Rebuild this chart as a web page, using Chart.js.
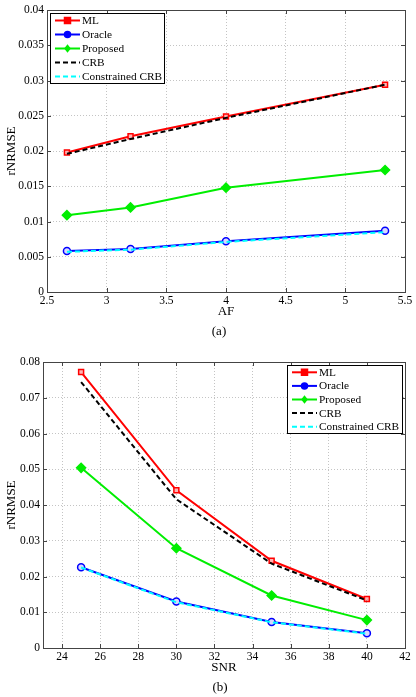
<!DOCTYPE html>
<html>
<head>
<meta charset="utf-8">
<script src="https://cdn.jsdelivr.net/npm/chart.js@4.4.0/dist/chart.umd.min.js"></script>
<style>
  body { margin: 0; background: #fff; width: 416px; height: 697px; position: relative; overflow: hidden; font-family: 'Liberation Serif', 'Times New Roman', serif; }
  .bloco { position: absolute; left: 0; width: 416px; }
  .legenda { position: absolute; font-size: 13px; color: #000; transform: translate(-50%, -50%); white-space: nowrap; }
</style>
</head>
<body>
<div class="bloco" style="top:0;height:340px"><canvas id="graficoA"></canvas></div>
<div class="legenda" style="left:219px;top:331px">(a)</div>
<div class="bloco" style="top:340px;height:357px"><canvas id="graficoB"></canvas></div>
<div class="legenda" style="left:220px;top:687px">(b)</div>
<script>
// nomes das curvas
const nomesSeries = ['ML', 'Oracle', 'Proposed', 'CRB', 'Constrained CRB'];

// === (a) rNRMSE x AF ===
const afValores = [2.667, 3.2, 4, 5.333];
const mlA = [0.0198, 0.0221, 0.0249, 0.0294];
const oracleA = [0.0058, 0.0061, 0.0072, 0.0087];
const propostoA = [0.0109, 0.0120, 0.0148, 0.0173];
const crbA = [0.0196, 0.0217, 0.0247, 0.0294];
const crbRestritoA = [0.0057, 0.0060, 0.0071, 0.0085];
const xTicksA = [2.5, 3, 3.5, 4, 4.5, 5, 5.5];
const yTicksA = [0, 0.005, 0.01, 0.015, 0.02, 0.025, 0.03, 0.035, 0.04];

// === (b) rNRMSE x SNR ===
const snrValores = [25, 30, 35, 40];
const mlB = [0.0772, 0.0441, 0.0244, 0.0137];
const oracleB = [0.0226, 0.0130, 0.0073, 0.0041];
const propostoB = [0.0504, 0.0279, 0.0147, 0.0078];
const crbB = [0.0744, 0.0416, 0.0236, 0.0133];
const crbRestritoB = [0.0225, 0.0128, 0.0072, 0.0040];
const xTicksB = [24, 26, 28, 30, 32, 34, 36, 38, 40, 42];
const yTicksB = [0, 0.01, 0.02, 0.03, 0.04, 0.05, 0.06, 0.07, 0.08];

const fonte = "'Liberation Serif', 'Times New Roman', serif";

// estilo de cada curva (mesma ordem de nomesSeries)
const estilos = [
  { cor: '#ff0000', dash: [], ponto: 'rect', fundo: '#ffb3b3', raio: 3.5, ordem: 5 },
  { cor: '#0000ff', dash: [], ponto: 'circle', fundo: '#d8d8ff', raio: 3.5, ordem: 4 },
  { cor: '#00ee00', dash: [], ponto: 'rectRot', fundo: '#00ee00', raio: 4.5, ordem: 3 },
  { cor: '#000000', dash: [5, 3], ponto: false, fundo: null, raio: 0, ordem: 2 },
  { cor: '#00ffff', dash: [5, 3], ponto: false, fundo: null, raio: 0, ordem: 1 }
];

function montarDatasets(xs, series) {
  return series.map((ys, i) => {
    const e = estilos[i];
    return {
      label: nomesSeries[i],
      data: xs.map((x, k) => ({ x: x, y: ys[k] })),
      borderColor: e.cor,
      borderWidth: 2,
      borderDash: e.dash,
      pointStyle: e.ponto,
      pointRadius: e.raio,
      pointBorderWidth: 1.5,
      pointBackgroundColor: e.fundo,
      pointBorderColor: e.cor,
      tension: 0,
      order: e.ordem,
      fill: false
    };
  });
}

function marcador(ctx, tipo, x, y, r, cor, fundo) {
  ctx.save();
  ctx.setLineDash([]);
  ctx.strokeStyle = cor;
  ctx.fillStyle = fundo;
  ctx.lineWidth = 1.5;
  ctx.beginPath();
  if (tipo === 'rect') {
    ctx.rect(x - r, y - r, 2 * r, 2 * r);
  } else if (tipo === 'circle') {
    ctx.arc(x, y, r, 0, Math.PI * 2);
  } else if (tipo === 'rectRot') {
    ctx.moveTo(x, y - r); ctx.lineTo(x + r * 0.8, y); ctx.lineTo(x, y + r); ctx.lineTo(x - r * 0.8, y); ctx.closePath();
  }
  ctx.fill();
  ctx.stroke();
  ctx.restore();
}

// legenda desenhada dentro da area do grafico
const legendaInterna = {
  id: 'legendaInterna',
  afterDraw(chart, args, opts) {
    const ctx = chart.ctx;
    const { x, y, w, h } = opts;
    ctx.save();
    ctx.fillStyle = '#fff';
    ctx.fillRect(x, y, w, h);
    ctx.strokeStyle = '#000';
    ctx.lineWidth = 1;
    ctx.strokeRect(x + 0.5, y + 0.5, w, h);
    const passo = h / nomesSeries.length;
    nomesSeries.forEach((nome, i) => {
      const e = estilos[i];
      const cy = y + passo * (i + 0.5) + 0.5;
      ctx.beginPath();
      ctx.setLineDash(e.dash);
      ctx.strokeStyle = e.cor;
      ctx.lineWidth = 2;
      ctx.moveTo(x + 5, cy);
      ctx.lineTo(x + 30, cy);
      ctx.stroke();
      ctx.setLineDash([]);
      if (e.ponto) marcador(ctx, e.ponto, x + 17.5, cy, 3, e.cor, e.cor);
      ctx.fillStyle = '#000';
      ctx.font = '11.3px ' + fonte;
      ctx.textBaseline = 'middle';
      ctx.fillText(nome, x + 32, cy + 0.5);
    });
    ctx.restore();
  }
};

// moldura e marcas de escala para dentro (estilo MATLAB)
const moldura = {
  id: 'moldura',
  afterDatasetsDraw(chart) {
    const { ctx, chartArea: a, scales } = chart;
    ctx.save();
    ctx.strokeStyle = '#444';
    ctx.lineWidth = 1;
    ctx.setLineDash([]);
    ctx.strokeRect(Math.round(a.left) + 0.5, Math.round(a.top) + 0.5, Math.round(a.right - a.left), Math.round(a.bottom - a.top));
    ctx.beginPath();
    scales.x.ticks.forEach(t => {
      const px = Math.round(scales.x.getPixelForValue(t.value)) + 0.5;
      ctx.moveTo(px, a.bottom); ctx.lineTo(px, a.bottom - 4);
      ctx.moveTo(px, a.top); ctx.lineTo(px, a.top + 4);
    });
    scales.y.ticks.forEach(t => {
      const py = Math.round(scales.y.getPixelForValue(t.value)) + 0.5;
      ctx.moveTo(a.left, py); ctx.lineTo(a.left + 4, py);
      ctx.moveTo(a.right, py); ctx.lineTo(a.right - 4, py);
    });
    ctx.stroke();
    ctx.restore();
  }
};

function criarGrafico(id, cfg) {
  const ctx = document.getElementById(id).getContext('2d');
  return new Chart(ctx, {
    type: 'line',
    data: { datasets: montarDatasets(cfg.xs, cfg.series) },
    plugins: [moldura, legendaInterna],
    options: {
      responsive: true,
      maintainAspectRatio: false,
      animation: false,
      layout: { padding: cfg.padding },
      plugins: {
        legend: { display: false },
        tooltip: { enabled: false },
        legendaInterna: cfg.legenda
      },
      scales: {
        x: {
          type: 'linear',
          min: cfg.xMin,
          max: cfg.xMax,
          afterBuildTicks: s => { s.ticks = cfg.xTicks.map(v => ({ value: v })); },
          afterFit: s => { s.height = 28; },
          ticks: {
            color: '#000', font: { family: fonte, size: 11.5 }, padding: 2, maxRotation: 0, autoSkip: false,
            callback: v => String(+v.toFixed(4))
          },
          grid: { color: '#c4c4c4', drawTicks: false, lineWidth: 1 },
          border: { display: false, dash: [1, 2] },
          title: { display: true, text: cfg.xTitulo, color: '#000', font: { family: fonte, size: 13 }, padding: { top: 0, bottom: 1 } }
        },
        y: {
          type: 'linear',
          min: cfg.yTicks[0],
          max: cfg.yTicks[cfg.yTicks.length - 1],
          afterBuildTicks: s => { s.ticks = cfg.yTicks.map(v => ({ value: v })); },
          afterFit: s => { s.width = cfg.yLargura; },
          ticks: {
            color: '#000', font: { family: fonte, size: 11.5 }, padding: 3, autoSkip: false,
            callback: v => String(+v.toFixed(4))
          },
          grid: { color: '#c4c4c4', drawTicks: false, lineWidth: 1 },
          border: { display: false, dash: [1, 2] },
          title: { display: true, text: 'rNRMSE', color: '#000', font: { family: fonte, size: 13 }, padding: { top: 4, bottom: 0 } }
        }
      }
    }
  });
}

criarGrafico('graficoA', {
  xs: afValores,
  series: [mlA, oracleA, propostoA, crbA, crbRestritoA],
  xTicks: xTicksA, xMin: 2.5, xMax: 5.5, yTicks: yTicksA,
  xTitulo: 'AF', yLargura: 47,
  padding: { left: 0, right: 11, top: 10, bottom: 20 },
  legenda: { x: 50, y: 13, w: 114, h: 70 }
});

criarGrafico('graficoB', {
  xs: snrValores,
  series: [mlB, oracleB, propostoB, crbB, crbRestritoB],
  xTicks: xTicksB, xMin: 23, xMax: 42, yTicks: yTicksB,
  xTitulo: 'SNR', yLargura: 43,
  padding: { left: 0, right: 11, top: 22, bottom: 21 },
  legenda: { x: 287, y: 25, w: 115, h: 68 }
});
</script>
</body>
</html>
